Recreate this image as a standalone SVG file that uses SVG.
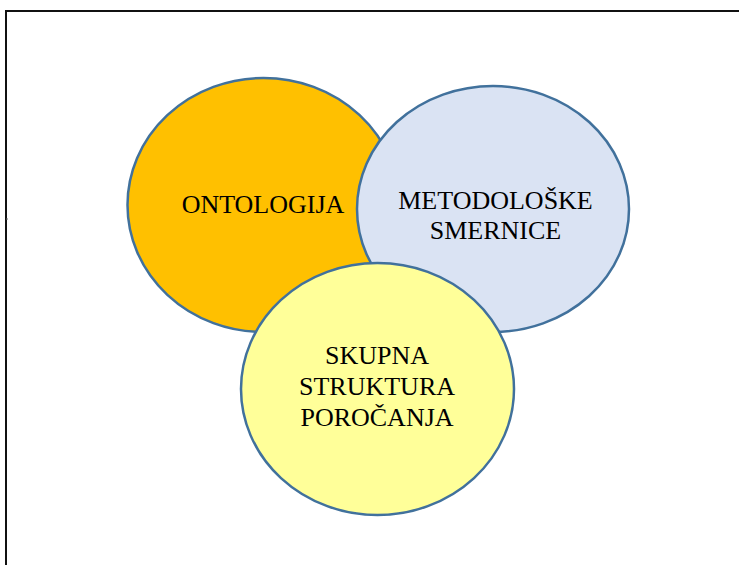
<svg xmlns="http://www.w3.org/2000/svg" width="739" height="565" viewBox="0 0 739 565">
<style>
.node{stroke:#41719C;stroke-width:2.5}
.lbl{font-family:"Liberation Serif","Times New Roman",serif;font-size:26px;fill:#000;text-anchor:middle}
.frame{stroke:#111;fill:none}
</style>
<rect width="739" height="565" fill="#fff"/>
<g id="frame">
<line class="frame" x1="5" y1="11" x2="739" y2="11" stroke-width="1.8"/>
<line class="frame" x1="6" y1="10" x2="6" y2="565" stroke-width="2"/>
<line x1="6" y1="219" x2="8" y2="219" stroke="#666" stroke-width="1"/>
</g>
<g id="ontologija">
<ellipse class="node" cx="263.5" cy="205" rx="136" ry="127" fill="#FFC000"/>
<text class="lbl" x="263" y="212.5">ONTOLOGIJA</text>
</g>
<g id="metodoloske-smernice">
<ellipse class="node" cx="493" cy="209" rx="136" ry="123" fill="#DAE3F3"/>
<text class="lbl" x="495.5" y="209.3">METODOLOŠKE</text>
<text class="lbl" x="495.5" y="239.3">SMERNICE</text>
</g>
<g id="skupna-struktura">
<ellipse class="node" cx="377.5" cy="389" rx="136.5" ry="126" fill="#FFFF99"/>
<text class="lbl" x="377" y="364.3">SKUPNA</text>
<text class="lbl" x="377" y="395">STRUKTURA</text>
<text class="lbl" x="377" y="425.5">POROČANJA</text>
</g>
</svg>
